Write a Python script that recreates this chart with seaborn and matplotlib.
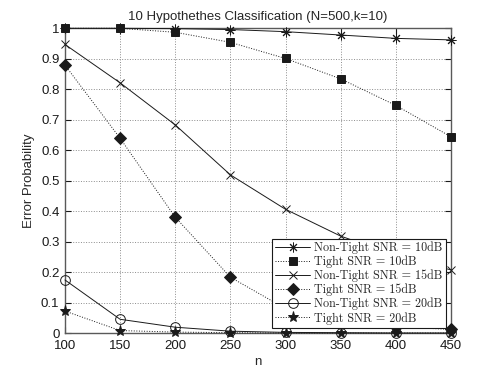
import matplotlib
matplotlib.use("Agg")
import matplotlib.pyplot as plt
import seaborn as sns
import numpy as np

n = [100, 150, 200, 250, 300, 350, 400, 450]

nontight_10 = [1.0, 1.0, 0.999, 0.996, 0.989, 0.978, 0.967, 0.962]
tight_10 = [1.0, 1.0, 0.987, 0.954, 0.901, 0.834, 0.747, 0.644]
nontight_15 = [0.947, 0.821, 0.683, 0.519, 0.406, 0.318, 0.255, 0.207]
tight_15 = [0.879, 0.639, 0.380, 0.183, 0.08, 0.04, 0.02, 0.012]
nontight_20 = [0.174, 0.045, 0.019, 0.006, 0.002, 0.001, 0.0, 0.0]
tight_20 = [0.072, 0.008, 0.003, 0.001, 0.0, 0.0, 0.0, 0.0]

labels = ["Non-Tight SNR = 10dB", "Tight SNR = 10dB",
          "Non-Tight SNR = 15dB", "Tight SNR = 15dB",
          "Non-Tight SNR = 20dB", "Tight SNR = 20dB"]

sns.set_theme(style="ticks")
plt.rcParams['font.family'] = ['Liberation Sans', 'DejaVu Sans']

fig = plt.figure(figsize=(4.98, 3.75), dpi=100)
ax = fig.add_axes([0.1305, 0.112, 0.775, 0.8125])

# (series, linestyle, marker, fill, size)
styles = [
    (nontight_10, '-', (8, 2, 0), 'k', 7),
    (tight_10, ':', 's', 'k', 6),
    (nontight_15, '-', 'x', 'k', 6),
    (tight_15, ':', 'D', 'k', 6),
    (nontight_20, '-', 'o', 'none', 7),
    (tight_20, ':', '*', 'k', 8),
]

for (vals, ls, mk, fc, ms), lab in zip(styles, labels):
    sns.lineplot(x=n, y=vals, ax=ax, color='k', linestyle=ls, linewidth=0.7,
                 marker=mk, markersize=ms, markerfacecolor=fc,
                 markeredgecolor='k', markeredgewidth=0.7, label=lab,
                 clip_on=False, zorder=3)

ax.set_xlim(100, 450)
ax.set_ylim(0, 1)
ax.set_xticks(np.arange(100, 451, 50))
ax.set_yticks(np.arange(0, 1.01, 0.1))
ax.set_yticklabels(['0', '0.1', '0.2', '0.3', '0.4', '0.5', '0.6', '0.7', '0.8', '0.9', '1'])
ax.grid(True, linestyle=':', color='0.55', linewidth=0.7)
ax.tick_params(direction='in', top=True, right=True, labelsize=9.5, length=4,
               width=0.8, colors='k')
ax.tick_params(axis='x', pad=5)
ax.tick_params(axis='y', pad=4)
for s in ax.spines.values():
    s.set_color('0.35')
    s.set_linewidth(1.0)
    s.set_visible(True)

ax.set_xlabel('n', fontsize=9.5, labelpad=3)
ax.set_ylabel('Error Probability', fontsize=9.5, labelpad=4)
ax.set_title('10 Hypothethes Classification (N=500,k=10)', fontsize=9.5, pad=6)

leg = ax.legend(loc='lower right', prop={'family': 'cmr10', 'size': 8.7},
                frameon=True, fancybox=False, framealpha=1, edgecolor='k',
                borderpad=0.25, labelspacing=0.12, handlelength=2.9,
                handletextpad=0.3, borderaxespad=0.45)
leg.get_frame().set_linewidth(0.8)
leg.set_zorder(5)

fig.savefig('out.png', dpi=100)
